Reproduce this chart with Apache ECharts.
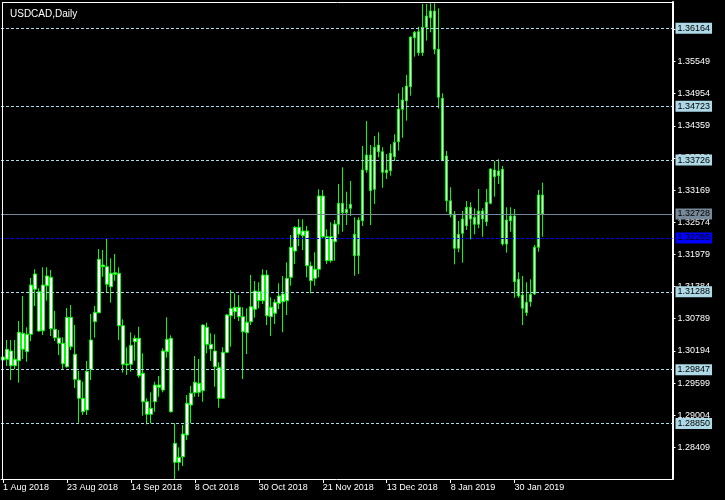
<!DOCTYPE html>
<html>
<head>
<meta charset="utf-8">
<script src="https://cdn.jsdelivr.net/npm/echarts@6/dist/echarts.min.js"></script>
<style>
html,body{margin:0;padding:0;background:#000;}
#c{width:725px;height:500px;}
</style>
</head>
<body>
<div id="c"></div>
<script>
const chartTitle = 'USDCAD,Daily';
const xTickLabels = ['1 Aug 2018','23 Aug 2018','14 Sep 2018','8 Oct 2018','30 Oct 2018','21 Nov 2018','13 Dec 2018','8 Jan 2019','30 Jan 2019'];
const barsPerTick = 16;
const totalSlots = 168;
const yTickValues = [1.28409,1.29004,1.29599,1.30194,1.30789,1.31384,1.31979,1.32574,1.33169,1.33764,1.34359,1.34954,1.35549,1.36144];
const levelLines = [1.36164,1.34723,1.33726,1.31288,1.29847,1.28850];
const bidPrice = 1.32728;
const bluePrice = 1.32285;
const yMin = 1.27823, yMax = 1.36651;

const opens = [1.30081,1.30038,1.30192,1.29920,1.30012,1.30519,1.30179,1.30501,1.31334,1.31289,
1.30567,1.31400,1.31556,1.30593,1.30432,1.30334,1.29901,1.30815,1.30131,1.29655,
1.29316,1.29100,1.29853,1.30734,1.30901,1.31783,1.31752,1.31382,1.31611,1.31630,
1.30660,1.29951,1.29946,1.30364,1.30427,1.29779,1.29253,1.29020,1.29253,1.29562,
1.29470,1.30179,1.30427,1.28483,1.28132,1.28235,1.28637,1.29192,1.29420,1.29594,
1.29457,1.30630,1.30316,1.30192,1.29883,1.29316,1.30168,1.30845,1.30919,1.31001,
1.30827,1.30530,1.30734,1.30964,1.31289,1.31123,1.31598,1.30827,1.30889,1.31075,
1.31247,1.31123,1.31556,1.32042,1.32481,1.32326,1.32413,1.31765,1.31537,1.31704,
1.33060,1.32307,1.31863,1.32215,1.32537,1.32925,1.32751,1.32833,1.32352,1.31956,
1.32603,1.33542,1.33819,1.33184,1.34004,1.33880,1.33492,1.33529,1.33788,1.34065,
1.34665,1.34824,1.35083,1.35990,1.36101,1.35713,1.36183,1.36360,1.36484,1.35776,
1.34869,1.33801,1.32973,1.32727,1.32093,1.32370,1.32511,1.32851,1.32666,1.32537,
1.32783,1.32585,1.32925,1.33542,1.33436,1.33555,1.32172,1.32603,1.32690,1.31519,
1.31228,1.30901,1.31104,1.31247,1.32111,1.33079];
const highs = [1.30155,1.30395,1.30395,1.30395,1.30747,1.31210,1.30630,1.31543,1.31704,1.31352,
1.31741,1.31741,1.31691,1.30932,1.30580,1.30445,1.30988,1.31043,1.30673,1.29822,
1.29624,1.30007,1.30877,1.31025,1.32080,1.32061,1.32265,1.31907,1.31987,1.31741,
1.30778,1.30260,1.30538,1.30482,1.30641,1.30149,1.29316,1.29427,1.29624,1.29729,
1.30242,1.30815,1.30482,1.28854,1.28409,1.28822,1.29377,1.29544,1.30099,1.30044,
1.30686,1.30716,1.30519,1.30501,1.29983,1.30260,1.30877,1.31321,1.31260,1.31228,
1.31001,1.30982,1.31598,1.31487,1.31463,1.31704,1.31691,1.31186,1.31149,1.31445,
1.31580,1.31833,1.32339,1.32505,1.32635,1.32629,1.32505,1.31845,1.32018,1.33184,
1.33172,1.32444,1.32574,1.32616,1.33283,1.33592,1.33140,1.33338,1.32666,1.32666,
1.33986,1.34449,1.34004,1.34171,1.34239,1.33962,1.33838,1.34017,1.34202,1.34961,
1.35072,1.35300,1.36009,1.36114,1.36194,1.36614,1.36614,1.36627,1.36627,1.36534,
1.34961,1.33893,1.33222,1.32783,1.32598,1.32783,1.32968,1.32944,1.32833,1.33190,
1.32833,1.33190,1.33573,1.33708,1.33740,1.33616,1.32851,1.32851,1.32820,1.31648,
1.31580,1.31463,1.31519,1.32154,1.33172,1.33307];
const lows = [1.29970,1.29914,1.29655,1.29853,1.29605,1.30044,1.29994,1.30377,1.31025,1.30549,
1.30488,1.31123,1.30469,1.30377,1.30118,1.29853,1.29883,1.30210,1.29507,1.28865,
1.29007,1.29007,1.29655,1.30438,1.30889,1.31567,1.31271,1.31086,1.31493,1.30395,
1.29790,1.29748,1.29809,1.30012,1.29698,1.28994,1.28835,1.28854,1.29068,1.29346,
1.29427,1.30068,1.29053,1.27823,1.27976,1.28063,1.28544,1.28854,1.29346,1.29346,
1.29253,1.30149,1.30007,1.29531,1.29142,1.29303,1.30155,1.30271,1.30784,1.30747,
1.29674,1.30136,1.30673,1.30808,1.30982,1.31062,1.30673,1.30469,1.30691,1.30969,
1.30538,1.30858,1.31400,1.31802,1.32135,1.32061,1.31556,1.31260,1.31400,1.31556,
1.32265,1.31802,1.31826,1.31863,1.32352,1.32400,1.32524,1.32690,1.31585,1.31617,
1.32505,1.33492,1.32524,1.32912,1.33777,1.33214,1.33375,1.33436,1.33708,1.33899,
1.34139,1.34454,1.34917,1.35639,1.35657,1.35652,1.35935,1.36090,1.35683,1.34684,
1.33708,1.32770,1.32666,1.31796,1.32018,1.31826,1.32431,1.32259,1.32352,1.32463,
1.32307,1.32505,1.32907,1.33048,1.33283,1.32141,1.32011,1.32400,1.31178,1.31178,
1.30673,1.30840,1.31012,1.31228,1.32030,1.32307];
const closes = [1.30025,1.30223,1.29920,1.30038,1.30538,1.30223,1.30501,1.31413,1.31617,1.30562,
1.31413,1.31580,1.30604,1.30438,1.30334,1.29957,1.30815,1.30271,1.29668,1.29316,
1.29068,1.29816,1.30395,1.30908,1.31889,1.31752,1.31426,1.31630,1.31641,1.30660,
1.29946,1.29933,1.30297,1.30427,1.29735,1.29253,1.29020,1.29131,1.29562,1.29520,
1.30192,1.30408,1.29068,1.28132,1.28224,1.28655,1.29224,1.29409,1.29612,1.29427,
1.30673,1.30316,1.30229,1.29901,1.29316,1.30168,1.30858,1.30982,1.31001,1.30827,
1.30549,1.30723,1.31012,1.31302,1.31123,1.31598,1.30845,1.31001,1.31093,1.31210,
1.31104,1.31537,1.32111,1.32481,1.32352,1.32413,1.31770,1.31493,1.31704,1.33060,
1.32307,1.31863,1.32307,1.32542,1.32925,1.32751,1.32814,1.32907,1.31956,1.32616,
1.33542,1.33819,1.33159,1.33962,1.33880,1.33499,1.33542,1.33851,1.34054,1.34671,
1.34837,1.35096,1.36003,1.36090,1.35713,1.36183,1.36392,1.36484,1.35776,1.34887,
1.33714,1.32973,1.32709,1.32093,1.32352,1.32635,1.32851,1.32635,1.32537,1.32783,
1.32635,1.32944,1.33560,1.33418,1.33523,1.32172,1.32616,1.32690,1.31474,1.31210,
1.30982,1.31093,1.31241,1.32111,1.33079,1.32728];

const FONT = 'Liberation Sans';
const categories = [];
for (let i = 0; i < totalSlots; i++) categories.push(String(i));
const ohlc = opens.map((o, i) => [o, closes[i], lows[i], highs[i]]);

const lineLabel = (bg) => ({
  show: true, position: 'end', distance: 3,
  formatter: (p) => Number(p.value).toFixed(5),
  color: '#000', backgroundColor: bg, padding: [1, 2, 0, 2],
  fontFamily: FONT, fontSize: 9, lineHeight: 10
});
const markData = levelLines.map(v => ({
  yAxis: v,
  lineStyle: { color: '#add8e6', type: [3, 2], width: 1 },
  label: lineLabel('#add8e6')
}));
markData.push({ yAxis: bluePrice, lineStyle: { color: '#0000ff', type: [3, 2], width: 1 }, label: lineLabel('#0000ff') });
markData.push({ yAxis: bidPrice, lineStyle: { color: '#778899', type: 'solid', width: 1 }, label: lineLabel('#778899') });

const chart = echarts.init(document.getElementById('c'), null, { renderer: 'canvas' });
chart.setOption({
  animation: false,
  backgroundColor: '#000000',
  title: {
    text: chartTitle, left: 5, top: 4,
    textStyle: { color: '#ffffff', fontSize: 10, fontWeight: 'normal', fontFamily: FONT }
  },
  grid: { left: 0.5, right: 52.5, top: 2, bottom: 21, containLabel: false },
  xAxis: {
    type: 'category', data: categories, boundaryGap: true,
    axisLine: { show: true, lineStyle: { color: '#ffffff', width: 1 } },
    axisTick: {
      show: true, alignWithLabel: true, length: 4,
      interval: (idx) => idx % barsPerTick === 0 && idx / barsPerTick < xTickLabels.length,
      lineStyle: { color: '#ffffff' }
    },
    axisLabel: {
      show: true, interval: 0, align: 'left', margin: 4,
      color: '#ffffff', fontFamily: FONT, fontSize: 9,
      formatter: (v, idx) => (idx % barsPerTick === 0 && idx / barsPerTick < xTickLabels.length) ? xTickLabels[idx / barsPerTick] : ''
    },
    splitLine: { show: false }
  },
  yAxis: {
    type: 'value', position: 'right', min: yMin, max: yMax, scale: true,
    axisLine: { show: true, lineStyle: { color: '#ffffff', width: 2 } },
    axisTick: { show: true, length: 3, customValues: yTickValues, lineStyle: { color: '#ffffff' } },
    axisLabel: {
      show: true, margin: 5, customValues: yTickValues,
      color: '#ffffff', fontFamily: FONT, fontSize: 9,
      formatter: (v) => Number(v).toFixed(5)
    },
    splitLine: { show: false }
  },
  graphic: [
    { type: 'line', shape: { x1: 2.5, y1: 2, x2: 2.5, y2: 480 }, style: { stroke: '#ffffff', lineWidth: 1 }, z: 100 },
    { type: 'line', shape: { x1: 2, y1: 2.5, x2: 673, y2: 2.5 }, style: { stroke: '#ffffff', lineWidth: 1 }, z: 100 }
  ],
  series: [{
    type: 'candlestick',
    data: ohlc,
    barWidth: 3,
    itemStyle: {
      color: '#ffffff', color0: '#ffffff',
      borderColor: '#00ff00', borderColor0: '#00ff00', borderColorDoji: '#00ff00',
      borderWidth: 1
    },
    markLine: {
      silent: true, symbol: ['none', 'none'], animation: false, precision: 5,
      data: markData
    }
  }]
});
</script>
</body>
</html>
